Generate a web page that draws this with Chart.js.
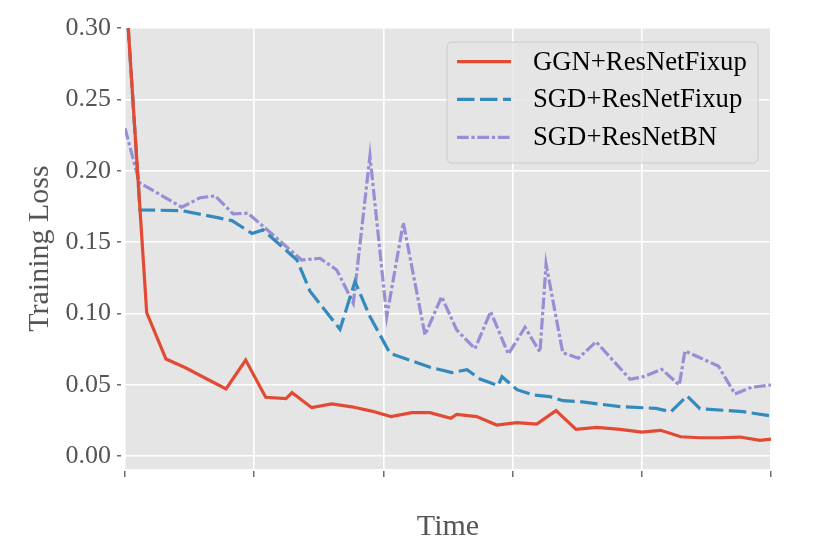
<!DOCTYPE html>
<html>
<head>
<meta charset="utf-8">
<script src="https://cdn.jsdelivr.net/npm/chart.js@4/dist/chart.umd.min.js"></script>
<style>
  body { margin: 0; background: #ffffff; }
  #wrap { width: 830px; height: 554px; }
</style>
</head>
<body>
<div id="wrap"><canvas id="lossChart" width="830" height="554"></canvas></div>
<script>
// values (time in arbitrary units 0..50)
const ggnTime = [0, 1.68, 3.17, 4.64, 7.82, 9.34, 10.89, 12.46, 12.93, 14.45, 16.0, 17.55, 19.09, 20.59, 22.19, 23.61, 25.21, 25.67, 27.22, 28.77, 30.32, 31.87, 33.36, 34.91, 36.51, 38.31, 39.99, 41.46, 43.01, 44.5, 46.05, 47.6, 49.15, 50];
const ggnLoss = [0.335, 0.1005, 0.068, 0.062, 0.047, 0.0673, 0.0412, 0.0402, 0.0444, 0.0339, 0.0365, 0.0345, 0.0315, 0.0277, 0.0304, 0.0304, 0.0264, 0.0292, 0.0276, 0.0217, 0.0234, 0.0224, 0.0318, 0.0187, 0.0201, 0.0187, 0.0168, 0.018, 0.0135, 0.0128, 0.0128, 0.0133, 0.011, 0.0119];

const fixupTime = [0, 1.16, 4.41, 7.35, 8.28, 9.83, 10.68, 13.31, 14.32, 16.64, 17.8, 18.96, 20.51, 23.61, 25.31, 26.47, 27.48, 28.87, 29.18, 30.34, 31.58, 32.89, 33.9, 35.22, 38.31, 41.1, 42.26, 43.5, 44.5, 47.83, 50];
const fixupLoss = [0.335, 0.1725, 0.172, 0.1667, 0.165, 0.156, 0.1585, 0.1374, 0.1155, 0.0888, 0.1222, 0.0977, 0.072, 0.0622, 0.0585, 0.0605, 0.054, 0.0493, 0.0556, 0.0465, 0.0428, 0.0416, 0.0388, 0.0381, 0.0346, 0.0334, 0.0311, 0.0421, 0.0332, 0.0311, 0.0281];

const bnTime = [0, 1.11, 4.39, 5.8, 6.97, 8.38, 9.52, 13.68, 15.09, 16.39, 17.67, 18.96, 20.26, 21.54, 23.22, 24.51, 25.67, 27.09, 28.3, 29.67, 30.96, 32.12, 32.59, 33.88, 35.09, 36.46, 39.09, 40.12, 41.54, 42.9, 43.34, 45.92, 47.21, 48.51, 50];
const bnLoss = [0.2298, 0.1917, 0.1744, 0.181, 0.1823, 0.1697, 0.1702, 0.1374, 0.1386, 0.1304, 0.1071, 0.2104, 0.0977, 0.1636, 0.0849, 0.1117, 0.0884, 0.0752, 0.1012, 0.0715, 0.0902, 0.0728, 0.1346, 0.0724, 0.0685, 0.0801, 0.0538, 0.0556, 0.0608, 0.0498, 0.0736, 0.0631, 0.0435, 0.0482, 0.0498];

const seriesNames = ["GGN+ResNetFixup", "SGD+ResNetFixup", "SGD+ResNetBN"];
const yTicks = [0, 0.05, 0.10, 0.15, 0.20, 0.25, 0.30];
const xTicks = [0, 10, 20, 30, 40, 50];

const serif = "'Liberation Serif', 'Times New Roman', serif";

function pairs(xs, ys) {
    return xs.map(function (x, i) { return { x: x, y: ys[i] }; });
}

// gray panel behind the plot
const panelBg = {
    id: "panelBg",
    beforeDraw: function (chart) {
        const a = chart.chartArea;
        const ctx = chart.ctx;
        ctx.save();
        ctx.fillStyle = "#e5e5e5";
        ctx.fillRect(a.left, a.top, a.right - a.left, a.bottom - a.top);
        ctx.restore();
    }
};

// legend box drawn inside the plot, upper right
const boxLegend = {
    id: "boxLegend",
    afterDraw: function (chart) {
        const ctx = chart.ctx;
        const x0 = 447, y0 = 42, w = 311, h = 121, r = 5;
        ctx.save();
        ctx.beginPath();
        ctx.moveTo(x0 + r, y0);
        ctx.lineTo(x0 + w - r, y0);
        ctx.arcTo(x0 + w, y0, x0 + w, y0 + r, r);
        ctx.lineTo(x0 + w, y0 + h - r);
        ctx.arcTo(x0 + w, y0 + h, x0 + w - r, y0 + h, r);
        ctx.lineTo(x0 + r, y0 + h);
        ctx.arcTo(x0, y0 + h, x0, y0 + h - r, r);
        ctx.lineTo(x0, y0 + r);
        ctx.arcTo(x0, y0, x0 + r, y0, r);
        ctx.closePath();
        ctx.fillStyle = "rgba(229,229,229,0.8)";
        ctx.fill();
        ctx.strokeStyle = "#cccccc";
        ctx.lineWidth = 1;
        ctx.stroke();

        const rows = [61.7, 99.3, 137.3];
        chart.data.datasets.forEach(function (ds, i) {
            const y = rows[i];
            ctx.beginPath();
            ctx.setLineDash(ds.borderDash || []);
            ctx.strokeStyle = ds.borderColor;
            ctx.lineWidth = ds.borderWidth;
            ctx.moveTo(457, y);
            ctx.lineTo(511, y);
            ctx.stroke();
            ctx.setLineDash([]);
            ctx.fillStyle = "#000000";
            ctx.font = "26.7px " + serif;
            ctx.textBaseline = "alphabetic";
            ctx.textAlign = "left";
            ctx.fillText(ds.label, 533, y + 8);
        });
        ctx.restore();
    }
};

const config = {
    type: "line",
    data: {
        datasets: [
            {
                label: seriesNames[0],
                data: pairs(ggnTime, ggnLoss),
                borderColor: "#e24a33",
                borderWidth: 3.2,
                pointRadius: 0,
                tension: 0,
                clip: 0
            },
            {
                label: seriesNames[1],
                data: pairs(fixupTime, fixupLoss),
                borderColor: "#348abd",
                borderWidth: 3.2,
                borderDash: [17.5, 5.5],
                pointRadius: 0,
                tension: 0,
                clip: 0
            },
            {
                label: seriesNames[2],
                data: pairs(bnTime, bnLoss),
                borderColor: "#988ed5",
                borderWidth: 3.2,
                borderDash: [11.7, 2.7, 3.3, 2.7],
                pointRadius: 0,
                tension: 0,
                clip: 0
            }
        ]
    },
    options: {
        responsive: false,
        animation: false,
        layout: { padding: { left: 0, top: 28, right: 59, bottom: 0 } },
        plugins: {
            legend: { display: false },
            tooltip: { enabled: false }
        },
        scales: {
            x: {
                type: "linear",
                min: 0,
                max: 50,
                afterBuildTicks: function (scale) {
                    scale.ticks = xTicks.map(function (v) { return { value: v }; });
                },
                afterFit: function (scale) { scale.height = 85; },
                border: { display: false },
                grid: {
                    color: "#ffffff",
                    lineWidth: 1.6,
                    tickColor: "#555555",
                    tickWidth: 1.3,
                    tickLength: 8,
                    tickBorderDash: [6, 2],
                    tickBorderDashOffset: 6
                },
                ticks: { display: false },
                title: {
                    display: true,
                    text: "Time",
                    color: "#555555",
                    font: { family: serif, size: 30 },
                    padding: { top: 0, bottom: 9 }
                }
            },
            y: {
                min: -0.0091,
                max: 0.30,
                afterBuildTicks: function (scale) {
                    scale.ticks = yTicks.map(function (v) { return { value: v }; });
                },
                afterFit: function (scale) { scale.width = 125; },
                border: { display: false },
                grid: {
                    color: "#ffffff",
                    lineWidth: 1.6,
                    tickColor: "#555555",
                    tickWidth: 1.3,
                    tickLength: 8,
                    tickBorderDash: [4, 4]
                },
                ticks: {
                    color: "#555555",
                    padding: 6,
                    font: { family: serif, size: 26 },
                    callback: function (v) { return Number(v).toFixed(2); }
                },
                title: {
                    display: true,
                    text: "Training Loss",
                    color: "#555555",
                    font: { family: serif, size: 30 },
                    padding: { top: 22, bottom: 0 }
                }
            }
        }
    },
    plugins: [panelBg, boxLegend]
};

new Chart(document.getElementById("lossChart"), config);
</script>
</body>
</html>
